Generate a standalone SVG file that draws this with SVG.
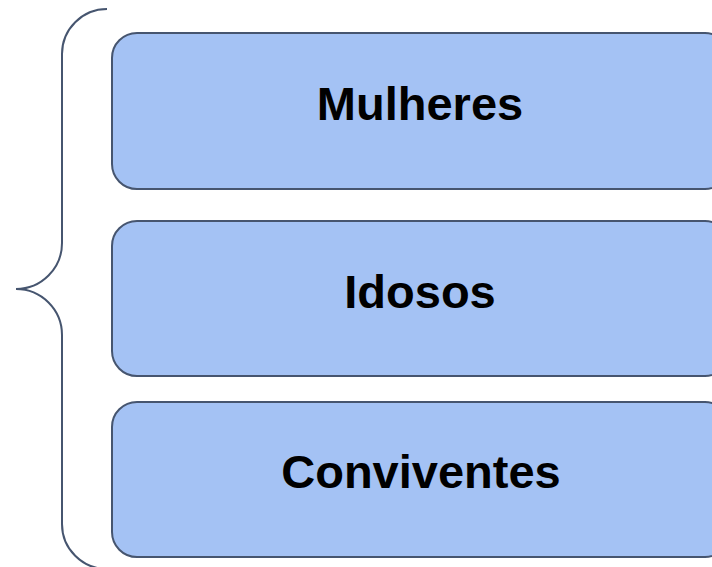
<svg xmlns="http://www.w3.org/2000/svg" width="712" height="567" viewBox="0 0 712 567">
<style>
.box{fill:#a4c2f4;stroke:#46556f;stroke-width:2}
.lbl{font-family:"Liberation Sans",Arial,sans-serif;font-weight:bold;font-size:47px;fill:#000;text-anchor:middle}
.brace{fill:none;stroke:#46556f;stroke-width:2}
</style>
<rect width="712" height="567" fill="#ffffff"/>
<g id="connectors">
<path class="brace" d="M107,9 A45,45 0 0 0 62,54 L62,243 A46,46 0 0 1 16,289 A46,46 0 0 1 62,335 L62,524 A45,45 0 0 0 107,569"/>
</g>
<g id="node-mulheres">
<rect class="box" x="112" y="33" width="618" height="156" rx="25" ry="25"/>
<text class="lbl" x="420" y="120">Mulheres</text>
</g>
<g id="node-idosos">
<rect class="box" x="112" y="221" width="618" height="155" rx="25" ry="25"/>
<text class="lbl" x="420" y="308">Idosos</text>
</g>
<g id="node-conviventes">
<rect class="box" x="112" y="402" width="618" height="155" rx="25" ry="25"/>
<text class="lbl" x="421" y="488">Conviventes</text>
</g>
</svg>
